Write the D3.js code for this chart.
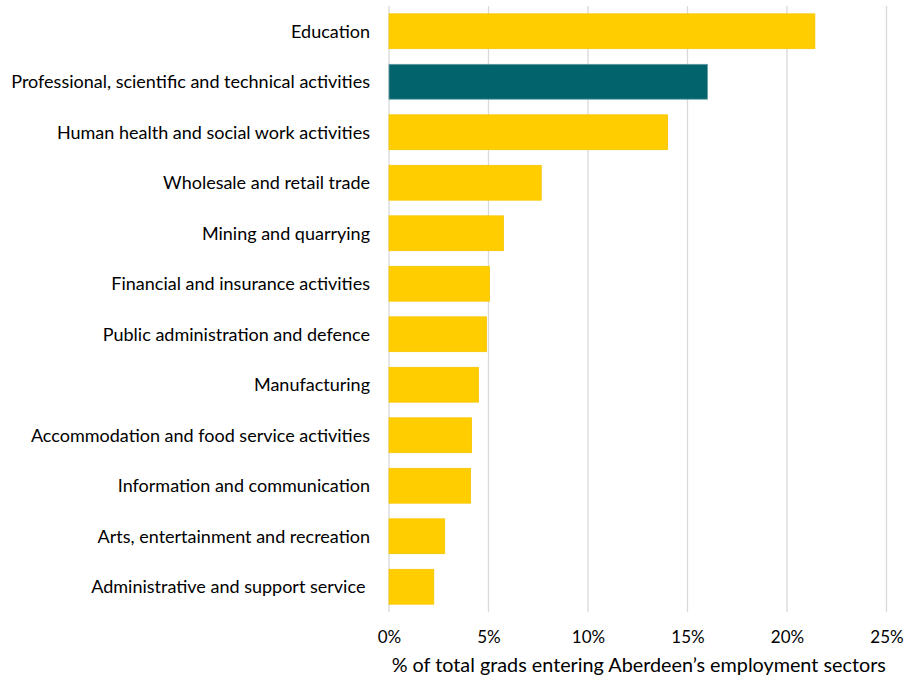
<!DOCTYPE html>
<html>
<head>
<meta charset="utf-8">
<script src="https://cdn.jsdelivr.net/npm/d3@7"></script>
<style>
  html, body { margin: 0; padding: 0; background: #fff; }
  svg text { font-family: Lato, "Open Sans", sans-serif; fill: #000; }
</style>
</head>
<body>
<svg id="chart" width="906" height="681"></svg>
<script>
const categories = [
  "Education",
  "Professional, scientific and technical activities",
  "Human health and social work activities",
  "Wholesale and retail trade",
  "Mining and quarrying",
  "Financial and insurance activities",
  "Public administration and defence",
  "Manufacturing",
  "Accommodation and food service activities",
  "Information and communication",
  "Arts, entertainment and recreation",
  "Administrative and support service "
];
const values = [21.4, 16.0, 14.0, 7.65, 5.75, 5.05, 4.9, 4.5, 4.15, 4.1, 2.8, 2.25];
const highlighted = ["Professional, scientific and technical activities"];
const xTicks = [0, 5, 10, 15, 20, 25];
const xTitle = "% of total grads entering Aberdeen\u2019s employment sectors";

(function () {
const svg = d3.select("#chart");
const pLeft = 389, pRight = 886.5, pTop = 6, pBottom = 612;

const x = d3.scaleLinear().domain([0, 25]).range([pLeft, pRight]);
const y = d3.scaleBand().domain(categories).range([pTop, pBottom]).paddingInner(0.31).paddingOuter(0.155);

// gridlines
svg.append("g").selectAll("line").data(xTicks).join("line")
  .attr("x1", d => x(d)).attr("x2", d => x(d))
  .attr("y1", pTop).attr("y2", pBottom)
  .attr("stroke", "#d9d9d9").attr("stroke-width", 1.3);

// bars
svg.append("g").selectAll("rect").data(categories).join("rect")
  .attr("x", x(0))
  .attr("y", d => y(d))
  .attr("width", (d, i) => x(values[i]) - x(0))
  .attr("height", y.bandwidth())
  .attr("fill", d => highlighted.includes(d) ? "#03636D" : "#FFCD00")
  .attr("stroke", d => highlighted.includes(d) ? "#5a9aa0" : "#f7c500")
  .attr("stroke-width", 0.8);

// category labels
svg.append("g").selectAll("text").data(categories).join("text")
  .attr("x", 370)
  .attr("y", d => y(d) + y.bandwidth() / 2)
  .attr("dy", "0.35em")
  .attr("text-anchor", "end")
  .style("white-space", "pre")
  .attr("font-size", 18)
  .text(d => d);

// x axis tick labels
const xAxis = d3.axisBottom(x).tickValues(xTicks).tickFormat(d => d + "%").tickSize(0);
const gx = svg.append("g").attr("transform", `translate(0, ${pBottom})`).call(xAxis);
gx.select(".domain").remove();
gx.selectAll("text").attr("font-size", 17).attr("dy", "0").attr("y", 31)
  .style("font-family", "Lato, 'Open Sans', sans-serif").attr("fill", "#000");

// axis title
svg.append("text")
  .attr("x", (pLeft + pRight) / 2 + 1)
  .attr("y", 672)
  .attr("text-anchor", "middle")
  .attr("font-size", 19.8)
  .text(xTitle);
})();
</script>
</body>
</html>
